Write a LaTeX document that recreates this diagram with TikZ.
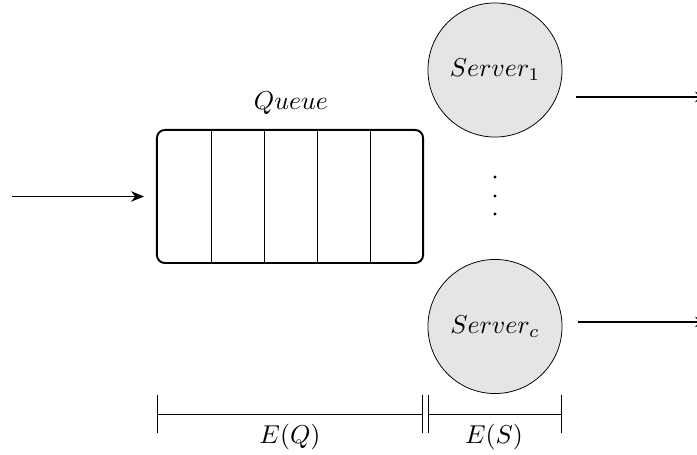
\documentclass[tikz,border=0pt]{standalone}
\usetikzlibrary{arrows.meta}
\tikzset{
  queuebox/.style={draw, line width=0.75pt, rounded corners=3.1pt, minimum width=103pt, minimum height=51.5pt, inner sep=0pt},
  servernode/.style={draw, line width=0.3pt, circle, fill=black!10, minimum size=51.9pt, inner sep=0pt},
  flow/.style={line width=0.75pt, -{Stealth[length=5pt, width=4pt, inset=1.6pt]}},
  cell/.style={line width=0.3pt},
  dimline/.style={line width=0.3pt},
  dot/.style={circle, fill=black, inner sep=0pt, minimum size=1.2pt}
}
\begin{document}
\begin{tikzpicture}[x=0.387pt, y=-0.387pt]
  \useasboundingbox (0,0) rectangle (697,455);

  % queue with its cells
  \node[queuebox] (q) at (290,196.5) {};
  \node (qlabel) at (291,103) {$Queue$};
  \foreach \x in {211,264,317,370} {
    \draw[cell] (\x,130) -- (\x,263);
  }

  % arrivals
  \coordinate (arr) at (12,196.5);
  \draw[flow, shorten >=4.6pt] (arr) -- (q.west);

  % servers
  \node[servernode] (s1) at (495,70) {$Server_1$};
  \node[servernode] (sc) at (495,326.5) {$Server_c$};
  \node[dot] (d1) at (495,177) {};
  \node[dot] (d2) at (495,196) {};
  \node[dot] (d3) at (495,214) {};

  % departures
  \coordinate (o1) at (576,97);
  \coordinate (o1e) at (708,97);
  \coordinate (oc) at (578,322);
  \coordinate (oce) at (708,322);
  \draw[flow] (o1) -- (o1e);
  \draw[flow] (oc) -- (oce);

  % time spans
  \coordinate (a) at (157,414);
  \coordinate (b) at (422,414);
  \coordinate (b2) at (428,414);
  \coordinate (c) at (561,414);
  \draw[dimline] (a) -- (b);
  \draw[dimline] (b2) -- (c);
  \foreach \p in {a,b,b2,c} {
    \draw[dimline] ([yshift=7.4pt]\p) -- ([yshift=-7.4pt]\p);
  }
  \node (eq) at (290,437) {$E(Q)$};
  \node (es) at (494,437) {$E(S)$};
\end{tikzpicture}
\end{document}
